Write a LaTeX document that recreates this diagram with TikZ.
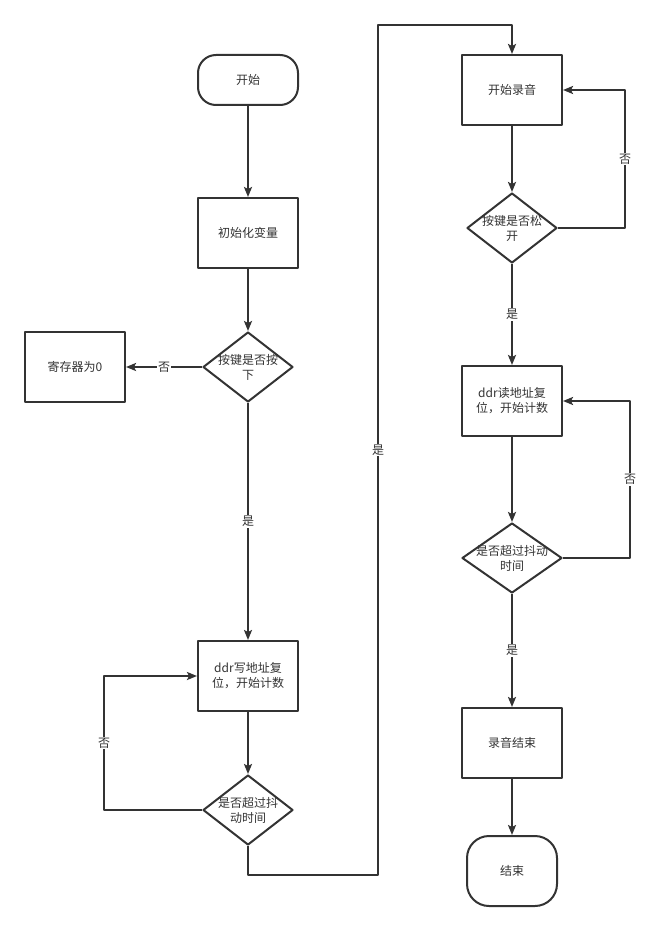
\documentclass[tikz,border=0pt]{standalone}
\usepackage{fontspec}
\setmainfont{Noto Sans CJK SC}
\usetikzlibrary{shapes.geometric,arrows.meta}
\definecolor{ink}{HTML}{333333}
\begin{document}
\begin{tikzpicture}[x=1pt, y=-1pt, font=\fontsize{12pt}{15pt}\selectfont, line join=round,
    >={Stealth[length=10pt,width=8pt,inset=2pt]},
    every node/.style={text=ink},
    box/.style={draw=ink, line width=2pt, minimum width=100pt, minimum height=70pt, align=center},
    term/.style={box, rounded corners=#1},
    decide/.style={draw=ink, line width=2pt, diamond, inner sep=0pt, minimum width=90pt, minimum height=70pt},
    flow/.style={draw=ink, line width=2pt, ->},
    lbl/.style={fill=white, inner sep=1pt}]
		\useasboundingbox (0,0) rectangle (654,931);
		% left column
		\node[term=18pt, minimum height=50pt] (start) at (248,80) {开始};
		\node[box] (init) at (248,233) {初始化变量};
		\node[decide, label={[align=center]center:按键是否按\\下}] (press) at (248,367) {};
		\node[box] (zero) at (75,367) {寄存器为0};
		\node[box] (wraddr) at (248,676) {ddr写地址复\\位，开始计数};
		\node[decide, label={[align=center]center:是否超过抖\\动时间}] (jitA) at (248,810) {};
		% right column
		\node[box] (rec) at (512,90) {开始录音};
		\node[decide, label={[align=center]center:按键是否松\\开}] (release) at (512,228) {};
		\node[box] (rdaddr) at (512,401) {ddr读地址复\\位，开始计数};
		\node[decide, minimum width=100pt, label={[align=center]center:是否超过抖动\\时间}] (jitB) at (512,558) {};
		\node[box] (recend) at (512,743) {录音结束};
		\node[term=22pt, minimum width=90pt] (finish) at (512,871) {结束};

		\draw[flow] (start) -- (init);
		\draw[flow] (init) -- (press);
		\draw[flow] (press.west) -- node[lbl]{否} (zero.east);
		\draw[flow] (press.south) -- node[lbl]{是} (wraddr.north);
		\draw[flow] (wraddr) -- (jitA);
		\draw[flow] (jitA.west) -- ++(-98,0) |- node[pos=0.25,lbl]{否} (wraddr.west);
		\draw[flow] (jitA.south) |- (378,875) -- node[lbl]{是} (378,25) -| (rec.north);

		\draw[flow] (rec) -- (release);
		\draw[flow] (release.east) -- ++(67,0) |- node[pos=0.25,lbl]{否} (rec.east);
		\draw[flow] (release.south) -- node[lbl]{是} (rdaddr.north);
		\draw[flow] (rdaddr) -- (jitB);
		\draw[flow] (jitB.east) -- ++(67,0) |- node[pos=0.25,lbl]{否} (rdaddr.east);
		\draw[flow] (jitB.south) -- node[lbl]{是} (recend.north);
		\draw[flow] (recend) -- (finish);
	\end{tikzpicture}
\end{document}
